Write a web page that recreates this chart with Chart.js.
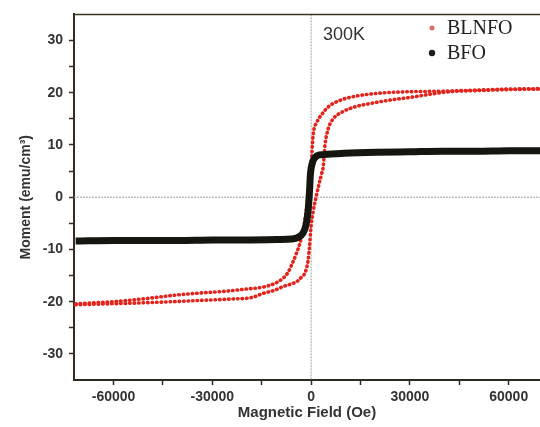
<!DOCTYPE html>
<html lang="en">
<head>
<meta charset="UTF-8">
<title>M-H loops of BLNFO and BFO at 300K</title>
<script src="https://cdn.jsdelivr.net/npm/chart.js"></script>
<style>
    body { margin: 0; background: #fff; }
    .wrap { width: 540px; height: 427px; overflow: hidden; }
</style>
</head>
<body>
<div class="wrap"><canvas id="mhChart" width="540" height="427"></canvas></div>
<script>
// field in Oe, moment in emu/cm3
// BLNFO descending branch (coming down from +H), listed by increasing field
const blnfoDownField = [-71500, -60000, -50000, -42000, -35000, -26000, -20000, -14500, -11000, -8500, -7000, -5800, -4600, -3500, -2500, -1800, -1200, -600, 0, 600, 1800, 3300, 5200, 8200, 12400, 17300, 22400, 30000, 40000, 50000, 60000, 70000];
const blnfoDownMoment = [-20.4, -20.0, -19.4, -18.8, -18.4, -18.0, -17.6, -17.2, -16.5, -15.5, -14.4, -12.8, -11.0, -9.0, -6.5, -4.0, -1.0, 2.5, 6.1, 11.8, 14.4, 15.9, 17.3, 18.4, 19.2, 19.7, 20.0, 20.2, 20.3, 20.5, 20.7, 20.8];

// BLNFO ascending branch (coming up from -H)
const blnfoUpField = [-71500, -60000, -50000, -42000, -35000, -24500, -18000, -14500, -11000, -8500, -6000, -4200, -2800, -1800, -900, -500, 0, 700, 1500, 2400, 3200, 3700, 4200, 5200, 6700, 9400, 13300, 18500, 24000, 30000, 36000, 42000, 50000, 60000, 70000];
const blnfoUpMoment = [-20.6, -20.4, -20.2, -20.0, -19.8, -19.5, -19.2, -18.4, -17.8, -17.1, -16.6, -16.1, -15.2, -14.4, -12.0, -9.5, -5.5, -2.5, 0, 2.5, 4.5, 6.0, 9.9, 13.1, 15.0, 16.3, 17.3, 18.0, 18.6, 19.1, 19.7, 20.2, 20.4, 20.6, 20.7];

// BFO (loop is too narrow to separate the branches)
const bfoField = [-71500, -60000, -50000, -40000, -30000, -20000, -10000, -6000, -4000, -2500, -1500, -900, -500, -200, 400, 1200, 2500, 5000, 10000, 20000, 30000, 40000, 50000, 60000, 70000];
const bfoMoment = [-8.4, -8.3, -8.3, -8.3, -8.2, -8.2, -8.1, -8.0, -7.7, -6.9, -5.2, -2.5, 1.0, 4.5, 6.6, 7.6, 8.1, 8.2, 8.4, 8.6, 8.7, 8.8, 8.8, 8.9, 8.9];

const xTicks = [-60000, -45000, -30000, -15000, 0, 15000, 30000, 45000, 60000];
const yTicks = [-30, -25, -20, -15, -10, -5, 0, 5, 10, 15, 20, 25, 30];

function toPoints(xs, ys) {
    return xs.map((x, i) => ({ x: x, y: ys[i] }));
}

const RED = '#e3241c';
const BLACK = '#161611';

// zero lines, top frame, temperature label and legend
const annotate = {
    id: 'annotate',
    beforeDatasetsDraw(chart) {
        const { ctx, chartArea: a, scales } = chart;
        const x0 = scales.x.getPixelForValue(0);
        const y0 = scales.y.getPixelForValue(0);
        ctx.save();
        ctx.strokeStyle = '#a0a0a0';
        ctx.lineWidth = 1;
        ctx.setLineDash([2, 1]);
        ctx.beginPath();
        ctx.moveTo(x0, a.top);
        ctx.lineTo(x0, a.bottom);
        ctx.moveTo(a.left, y0);
        ctx.lineTo(a.right, y0);
        ctx.stroke();
        ctx.restore();
    },
    afterDraw(chart) {
        const { ctx, chartArea: a } = chart;
        ctx.save();
        ctx.strokeStyle = '#3a3522';
        ctx.lineWidth = 1.5;
        ctx.beginPath();
        ctx.moveTo(a.left, a.top);
        ctx.lineTo(a.right, a.top);
        ctx.stroke();

        ctx.fillStyle = '#333';
        ctx.font = '18px "Liberation Sans", Arial, sans-serif';
        ctx.textBaseline = 'middle';
        ctx.fillText('300K', 323, 35);

        const seen = [];
        chart.data.datasets.forEach(ds => {
            if (seen.indexOf(ds.label) < 0) seen.push(ds.label);
        });
        const markColors = { BLNFO: '#e06a64', BFO: '#1f1f1a' };
        const markSizes = { BLNFO: 2.5, BFO: 3.2 };
        ctx.font = '20px "Liberation Serif", "Times New Roman", serif';
        seen.forEach((label, i) => {
            const y = 28 + i * 25;
            ctx.fillStyle = markColors[label];
            ctx.beginPath();
            ctx.arc(432, y, markSizes[label], 0, Math.PI * 2);
            ctx.fill();
            ctx.fillStyle = '#222';
            ctx.fillText(label, 447, y + 1);
        });
        ctx.restore();
    }
};

const tickFont = { family: '"Liberation Sans", Arial, sans-serif', size: 14, weight: 'bold' };

new Chart(document.getElementById('mhChart'), {
    type: 'line',
    data: {
        datasets: [
            {
                label: 'BLNFO',
                data: toPoints(blnfoDownField, blnfoDownMoment),
                borderColor: RED,
                borderWidth: 3.6,
                borderDash: [0.5, 4],
                borderCapStyle: 'round',
                pointRadius: 0,
                cubicInterpolationMode: 'monotone',
                order: 1
            },
            {
                label: 'BLNFO',
                data: toPoints(blnfoUpField, blnfoUpMoment),
                borderColor: RED,
                borderWidth: 3.6,
                borderDash: [0.5, 4],
                borderCapStyle: 'round',
                pointRadius: 0,
                cubicInterpolationMode: 'monotone',
                order: 1
            },
            {
                label: 'BFO',
                data: toPoints(bfoField, bfoMoment),
                borderColor: BLACK,
                borderWidth: 7,
                pointRadius: 0,
                cubicInterpolationMode: 'monotone',
                order: 0
            }
        ]
    },
    options: {
        responsive: false,
        animation: false,
        layout: { padding: { top: 13, right: 0, bottom: 4, left: 0 } },
        plugins: {
            legend: { display: false },
            tooltip: { enabled: false }
        },
        scales: {
            x: {
                type: 'linear',
                min: -72000,
                max: 69500,
                afterBuildTicks: scale => { scale.ticks = xTicks.map(v => ({ value: v })); },
                afterFit: scale => { scale.height = 43; },
                border: { color: '#2c2a1e', width: 2 },
                grid: { drawOnChartArea: false, tickLength: 5, tickColor: '#2c2a1e', tickWidth: 1.5 },
                ticks: {
                    padding: 4,
                    color: '#333',
                    font: tickFont,
                    maxRotation: 0,
                    callback: v => (v % 30000 === 0 ? String(v) : '')
                },
                title: {
                    display: true,
                    text: 'Magnetic Field (Oe)',
                    color: '#333',
                    font: { family: '"Liberation Sans", Arial, sans-serif', size: 15, weight: 'bold' },
                    padding: { top: 0, bottom: 1 }
                }
            },
            y: {
                type: 'linear',
                min: -35,
                max: 35,
                afterBuildTicks: scale => { scale.ticks = yTicks.map(v => ({ value: v })); },
                afterFit: scale => { scale.width = 74; },
                border: { color: '#3a2a1c', width: 2 },
                grid: { drawOnChartArea: false, tickLength: 5, tickColor: '#3a2a1c', tickWidth: 1.5 },
                ticks: {
                    padding: 6,
                    color: '#333',
                    font: tickFont,
                    callback: v => (v % 10 === 0 ? String(v) : '')
                },
                title: {
                    display: true,
                    text: 'Moment (emu/cm³)',
                    color: '#333',
                    font: { family: '"Liberation Sans", Arial, sans-serif', size: 14, weight: 'bold' },
                    padding: { top: 18, bottom: 0 }
                }
            }
        }
    },
    plugins: [annotate]
});
</script>
</body>
</html>
